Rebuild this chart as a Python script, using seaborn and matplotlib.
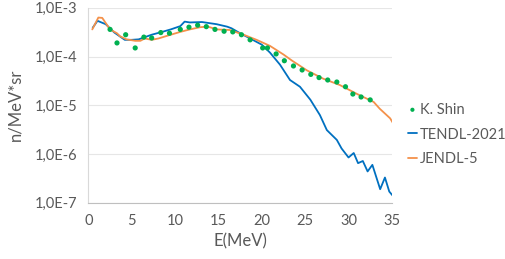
import math
import matplotlib
matplotlib.use("Agg")
import matplotlib.pyplot as plt
import matplotlib.ticker as mticker
import seaborn as sns

# K. Shin measured points
shin_e = [2.5, 3.3, 4.3, 5.4, 6.4, 7.3, 8.35, 9.35, 10.6, 11.6, 12.6, 13.6, 14.6,
          15.65, 16.65, 17.65, 18.65, 20.1, 20.65, 21.65, 22.6, 23.65, 24.65,
          25.65, 26.6, 27.6, 28.65, 29.65, 30.5, 31.45, 32.5]
shin_y = [3.6e-4, 1.9e-4, 2.8e-4, 1.5e-4, 2.5e-4, 2.4e-4, 3.1e-4, 3.0e-4, 3.6e-4,
          4.0e-4, 4.4e-4, 4.1e-4, 3.6e-4, 3.3e-4, 3.2e-4, 2.8e-4, 2.2e-4, 1.5e-4,
          1.5e-4, 1.13e-4, 8.2e-5, 6.4e-5, 5.3e-5, 4.3e-5, 3.7e-5, 3.3e-5, 3.0e-5,
          2.4e-5, 1.7e-5, 1.48e-5, 1.29e-5]

# TENDL-2021
tendl_e = [0.5, 1.05, 2.0, 3.0, 4.2, 5.0, 5.8, 7.3, 8.5, 9.5, 10.6, 11.1, 11.7,
           13.1, 14.8, 16.0, 16.5, 17.5, 18.65, 20.0, 20.95, 22.1, 23.25, 24.4,
           25.6, 26.7, 27.5, 28.65, 29.2, 30.0, 30.6, 31.1, 31.65, 32.2, 32.75,
           33.65, 34.2, 34.7, 35.1]
tendl_y = [3.9e-4, 5.4e-4, 4.6e-4, 3.1e-4, 2.2e-4, 2.2e-4, 2.25e-4, 2.8e-4,
           3.2e-4, 3.6e-4, 4.2e-4, 5.2e-4, 5.0e-4, 5.1e-4, 4.6e-4, 4.1e-4,
           3.8e-4, 3.0e-4, 2.35e-4, 1.75e-4, 1.2e-4, 6.8e-5, 3.3e-5, 2.4e-5,
           1.3e-5, 6.3e-6, 3.1e-6, 1.95e-6, 1.3e-6, 8.5e-7, 1.05e-6, 6.5e-7,
           7.2e-7, 4.4e-7, 6.0e-7, 1.9e-7, 3.3e-7, 1.7e-7, 1.4e-7]

# JENDL-5
jendl_e = [0.45, 1.15, 1.6, 2.5, 3.3, 3.65, 4.4, 5.4, 6.0, 6.5, 7.3, 8.1, 9.2,
           10.6, 11.7, 12.9, 13.8, 14.8, 16.3, 17.9, 19.4, 20.95, 22.5, 23.5,
           25.2, 27.1, 29.0, 31.0, 32.9, 33.6, 34.8, 35.1]
jendl_y = [3.6e-4, 6.3e-4, 6.2e-4, 3.6e-4, 3.0e-4, 2.6e-4, 2.25e-4, 2.1e-4,
           2.1e-4, 2.35e-4, 2.2e-4, 2.35e-4, 2.7e-4, 3.2e-4, 3.6e-4, 4.0e-4,
           4.1e-4, 3.6e-4, 3.5e-4, 2.8e-4, 2.2e-4, 1.65e-4, 1.1e-4, 8.2e-5,
           5.2e-5, 3.5e-5, 2.6e-5, 1.7e-5, 1.17e-5, 8.5e-6, 5.4e-6, 4.4e-6]

sns.set_style("white")
plt.rcParams["font.family"] = ["Lato", "DejaVu Sans"]

fig = plt.figure(figsize=(5.05, 2.59), dpi=100)
ax = fig.add_axes([0.175, 0.217, 0.601, 0.753])

sns.scatterplot(x=shin_e, y=shin_y, ax=ax, color="#00B050", s=14,
                edgecolor="none", label="K. Shin", zorder=3)
sns.lineplot(x=tendl_e, y=tendl_y, ax=ax, color="#0070C0", linewidth=1.3,
             label="TENDL-2021", sort=False)
sns.lineplot(x=jendl_e, y=jendl_y, ax=ax, color="#F4914A", linewidth=1.3,
             label="JENDL-5", sort=False)

ax.set_yscale("log")
ax.set_xlim(0, 35)
ax.set_ylim(1e-7, 1e-3)
ax.set_xticks(range(0, 36, 5))
ax.set_yticks([1e-7, 1e-6, 1e-5, 1e-4, 1e-3])
ax.yaxis.set_major_formatter(mticker.FuncFormatter(
    lambda v, p: "1,0E-%d" % round(-math.log10(v))))
ax.yaxis.set_minor_locator(mticker.NullLocator())
ax.grid(axis="y", color="#E6E6E6", linewidth=0.8)
ax.set_axisbelow(True)
for s in ["top", "right"]:
    ax.spines[s].set_visible(False)
ax.spines["left"].set_color("#D9D9D9")
ax.spines["bottom"].set_color("#BFBFBF")
ax.tick_params(axis="both", length=0, labelsize=10.5, colors="#595959", pad=8)
ax.set_xlabel("E(MeV)", fontsize=12, color="#595959", labelpad=4)
ax.set_ylabel("n/MeV*sr", fontsize=12, color="#595959", labelpad=8)

leg = ax.legend(loc="center left", bbox_to_anchor=(1.01, 0.35), frameon=False,
                fontsize=10.5, handlelength=0.6, handletextpad=0.2,
                labelspacing=0.75, labelcolor="#595959", markerscale=0.8)

fig.savefig("out.png", dpi=100)
